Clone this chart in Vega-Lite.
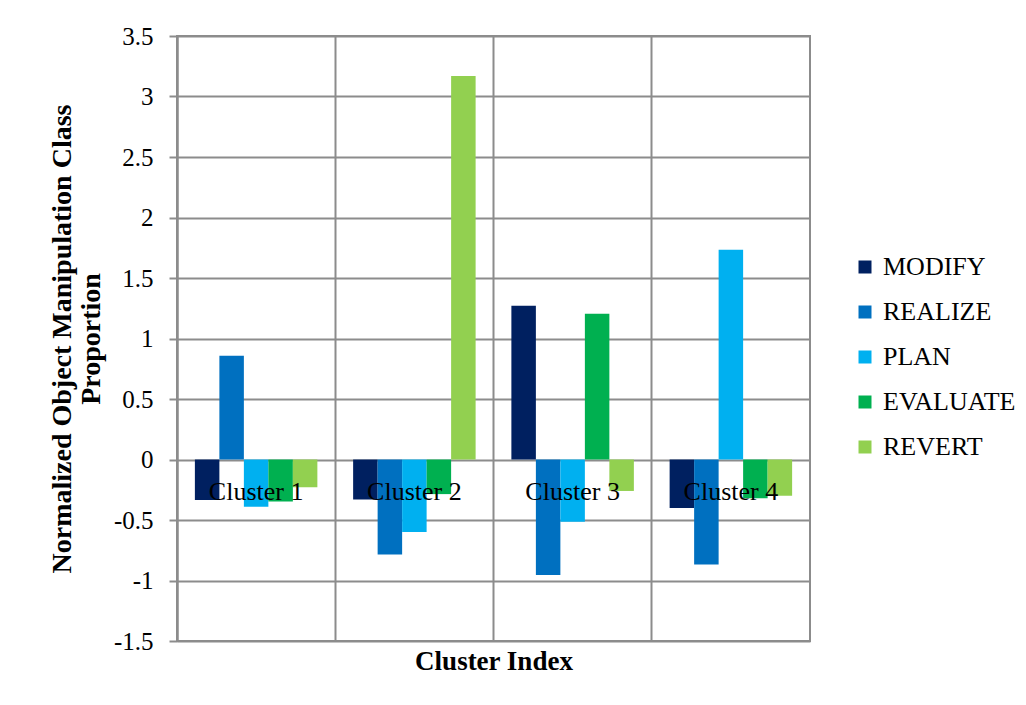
{
  "$schema": "https://vega.github.io/schema/vega-lite/v6.json",
  "width": 633,
  "height": 605,
  "autosize": "none",
  "padding": {"left": 177, "top": 36, "right": 216, "bottom": 64},
  "background": "white",
  "datasets": {
    "proportions": [
      {"cluster": "Cluster 1", "class": "MODIFY", "value": -0.335},
      {"cluster": "Cluster 1", "class": "REALIZE", "value": 0.857},
      {"cluster": "Cluster 1", "class": "PLAN", "value": -0.39},
      {"cluster": "Cluster 1", "class": "EVALUATE", "value": -0.347},
      {"cluster": "Cluster 1", "class": "REVERT", "value": -0.23},
      {"cluster": "Cluster 2", "class": "MODIFY", "value": -0.33},
      {"cluster": "Cluster 2", "class": "REALIZE", "value": -0.785},
      {"cluster": "Cluster 2", "class": "PLAN", "value": -0.6},
      {"cluster": "Cluster 2", "class": "EVALUATE", "value": -0.286},
      {"cluster": "Cluster 2", "class": "REVERT", "value": 3.17},
      {"cluster": "Cluster 3", "class": "MODIFY", "value": 1.27},
      {"cluster": "Cluster 3", "class": "REALIZE", "value": -0.955},
      {"cluster": "Cluster 3", "class": "PLAN", "value": -0.515},
      {"cluster": "Cluster 3", "class": "EVALUATE", "value": 1.204},
      {"cluster": "Cluster 3", "class": "REVERT", "value": -0.26},
      {"cluster": "Cluster 4", "class": "MODIFY", "value": -0.4},
      {"cluster": "Cluster 4", "class": "REALIZE", "value": -0.868},
      {"cluster": "Cluster 4", "class": "PLAN", "value": 1.733},
      {"cluster": "Cluster 4", "class": "EVALUATE", "value": -0.32},
      {"cluster": "Cluster 4", "class": "REVERT", "value": -0.3}
    ],
    "clusters": [
      {"cluster": "Cluster 1"},
      {"cluster": "Cluster 2"},
      {"cluster": "Cluster 3"},
      {"cluster": "Cluster 4"}
    ]
  },
  "config": {
    "font": "Liberation Serif",
    "view": {"stroke": "#8c8c8c", "strokeWidth": 2},
    "axis": {
      "gridColor": "#8c8c8c",
      "gridWidth": 2,
      "gridOpacity": 1,
      "domainColor": "#8c8c8c",
      "domainWidth": 2,
      "tickColor": "#8c8c8c",
      "tickWidth": 2,
      "labelColor": "black",
      "titleColor": "black"
    }
  },
  "layer": [
    {
      "data": {"name": "proportions"},
      "mark": {"type": "bar"},
      "encoding": {
        "x": {
          "field": "cluster",
          "type": "nominal",
          "sort": ["Cluster 1", "Cluster 2", "Cluster 3", "Cluster 4"],
          "scale": {"paddingInner": 0, "paddingOuter": 0},
          "axis": {
            "title": "Cluster Index",
            "labels": false,
            "ticks": false,
            "domain": false,
            "grid": true,
            "bandPosition": 0,
            "titleFont": "Liberation Serif",
            "titleFontSize": 27,
            "titleFontWeight": "bold",
            "titlePadding": 7
          }
        },
        "xOffset": {
          "field": "class",
          "type": "nominal",
          "sort": ["MODIFY", "REALIZE", "PLAN", "EVALUATE", "REVERT"],
          "scale": {"paddingInner": 0, "paddingOuter": 0.73}
        },
        "y": {
          "field": "value",
          "type": "quantitative",
          "scale": {"domain": [-1.5, 3.5], "nice": false, "zero": false},
          "axis": {
            "values": [-1.5, -1, -0.5, 0, 0.5, 1, 1.5, 2, 2.5, 3, 3.5],
            "labelExpr": "'' + datum.value",
            "labelFont": "Liberation Serif",
            "labelFontSize": 25,
            "tickSize": 8,
            "labelPadding": 16,
            "title": ["Normalized Object Manipulation Class", "Proportion"],
            "titleFont": "Liberation Serif",
            "titleFontSize": 28,
            "titleFontWeight": "bold",
            "titleLineHeight": 29,
            "titlePadding": 8
          }
        },
        "color": {
          "field": "class",
          "type": "nominal",
          "sort": ["MODIFY", "REALIZE", "PLAN", "EVALUATE", "REVERT"],
          "scale": {
            "domain": ["MODIFY", "REALIZE", "PLAN", "EVALUATE", "REVERT"],
            "range": ["#002060", "#0070C0", "#00B0F0", "#00B050", "#92D050"]
          },
          "legend": {
            "orient": "none",
            "legendX": 675,
            "legendY": 218,
            "title": null,
            "symbolType": "square",
            "symbolSize": 169,
            "symbolStrokeWidth": 0,
            "symbolOpacity": 1,
            "labelFont": "Liberation Serif",
            "labelFontSize": 26,
            "labelColor": "black",
            "rowPadding": 19,
            "labelOffset": 5,
            "padding": 0
          }
        }
      }
    },
    {
      "data": {"name": "clusters"},
      "mark": {"type": "text", "fontSize": 26, "baseline": "alphabetic", "dy": 40, "color": "black", "font": "Liberation Serif"},
      "encoding": {
        "x": {"field": "cluster", "type": "nominal", "sort": ["Cluster 1", "Cluster 2", "Cluster 3", "Cluster 4"]},
        "y": {"datum": 0, "type": "quantitative"},
        "text": {"field": "cluster"}
      }
    }
  ]
}
